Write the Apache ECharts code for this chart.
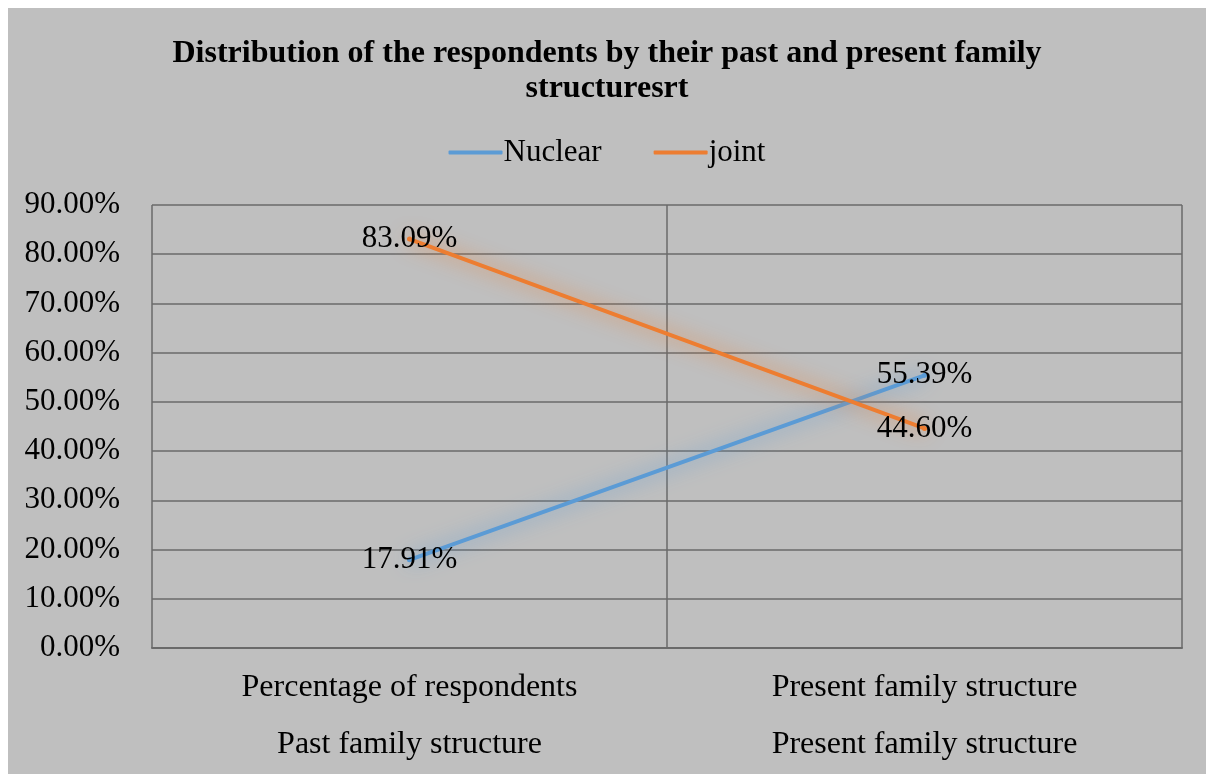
<!DOCTYPE html>
<html><head><meta charset="utf-8">
<script src="https://cdn.jsdelivr.net/npm/echarts@6/dist/echarts.min.js"></script>
<style>
html,body{margin:0;padding:0;background:#ffffff;width:1206px;height:774px;overflow:hidden;}
#c{position:absolute;left:8px;top:8px;width:1198px;height:766px;background:#bfbfbf;}
</style></head>
<body><div id="c"></div>
<script>
const titleText = 'Distribution of the respondents by their past and present family\nstructuresrt';
const categories = ['Percentage of respondents\nPast family structure', 'Present family structure\nPresent family structure'];
const seriesNames = ['Nuclear', 'joint'];
const nuclear = [17.91, 55.39];
const joint = [83.09, 44.60];
const yMin = 0, yMax = 90, yStep = 10;

const FONT = "'Liberation Serif','Times New Roman',serif";
const chart = echarts.init(document.getElementById('c'), null, {renderer:'canvas'});
function lineSeries(name, data, color){
  return {
    name, type:'line', data,
    symbol:'circle', symbolSize:5, showSymbol:true,
    itemStyle:{color},
    lineStyle:{color, width:4, cap:'round', shadowColor:color, shadowBlur:20},
    label:{show:true, position:'inside', formatter:p=>p.value.toFixed(2)+'%',
      fontFamily:FONT, fontSize:31, color:'#000'},
    emphasis:{disabled:true}, animation:false
  };
}
chart.setOption({
  backgroundColor:'#bfbfbf',
  animation:false,
  title:{text:titleText, left:'center', top:28, padding:0,
    textStyle:{fontFamily:FONT, fontSize:32, fontWeight:'bold', color:'#000', lineHeight:35}},
  legend:{top:124, left:'center', icon:'roundRect', itemWidth:54, itemHeight:4, itemGap:52,
    data:seriesNames,
    textStyle:{fontFamily:FONT, fontSize:31, color:'#000', padding:[0,0,0,-4]}},
  grid:{left:144, right:24, top:197, bottom:126},
  xAxis:{type:'category', data:categories, boundaryGap:true,
    axisLine:{show:true, lineStyle:{color:'#6a6a6a', width:2}},
    axisTick:{show:false},
    splitLine:{show:true, interval:0, lineStyle:{color:'#6a6a6a', width:1.5}},
    axisLabel:{interval:0, margin:11, fontFamily:FONT, fontSize:32, color:'#000', lineHeight:57}},
  yAxis:{type:'value', min:yMin, max:yMax, interval:yStep,
    axisLine:{show:false}, axisTick:{show:false},
    splitLine:{show:true, lineStyle:{color:'#6a6a6a', width:1.5}},
    axisLabel:{margin:32, fontFamily:FONT, fontSize:31, color:'#000', formatter:v=>v.toFixed(2)+'%'}},
  series:[lineSeries(seriesNames[0], nuclear, '#5b9bd5'), lineSeries(seriesNames[1], joint, '#ed7d31')]
});
</script></body></html>
